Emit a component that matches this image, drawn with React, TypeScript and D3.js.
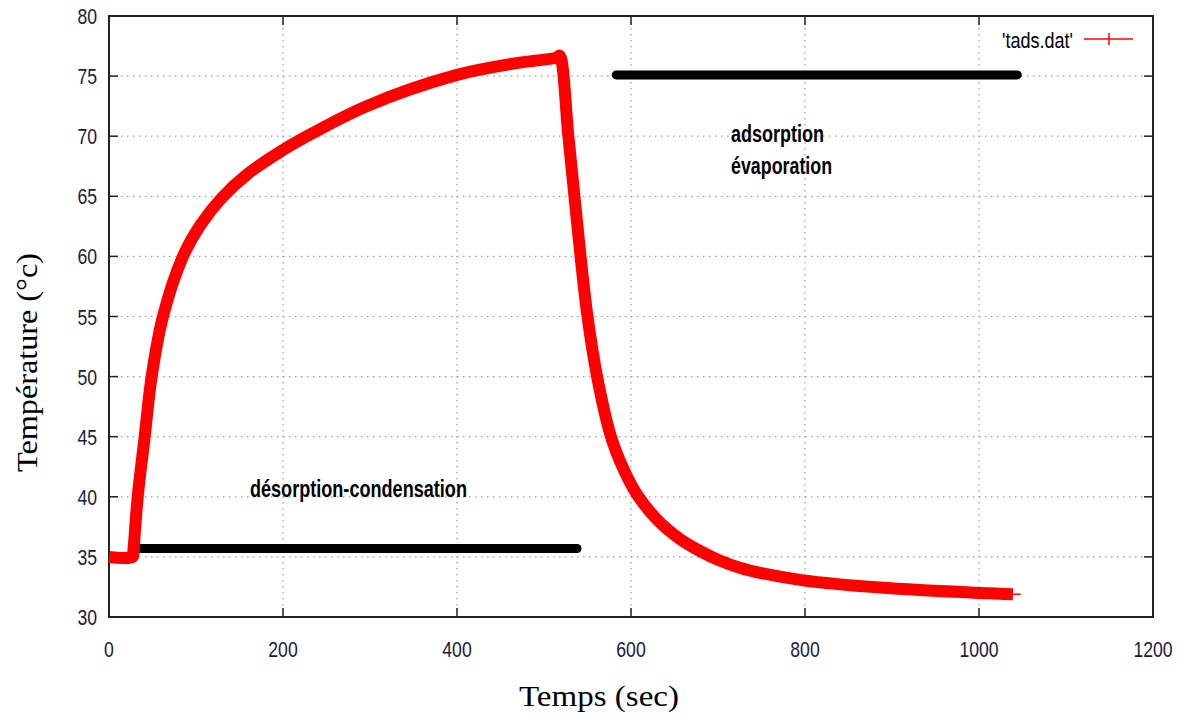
import React from "react";
import * as d3 from "d3";

const timeValues = [0, 27, 28, 33, 41, 49, 62, 85, 105, 130, 160, 200, 220, 296, 400, 470, 515, 518, 528, 535, 542, 550, 561, 577, 592, 606, 630, 656, 679, 702, 725, 750, 798, 886, 1001, 1039];
const tempValues = [35, 35, 35.5, 40, 45, 50, 55, 60, 62.6, 64.9, 66.9, 68.85, 69.7, 72.5, 75.1, 76.1, 76.55, 76.7, 70, 65, 60, 55, 50, 45, 42.2, 40.3, 38.1, 36.5, 35.5, 34.7, 34.1, 33.65, 33.05, 32.45, 32.0, 31.9];

const xTicks = [0, 200, 400, 600, 800, 1000, 1200];
const yTicks = [30, 35, 40, 45, 50, 55, 60, 65, 70, 75, 80];

const phaseSegments = [
  { t0: 32, t1: 538, temp: 35.7 },
  { t0: 583, t1: 1044, temp: 75.1 },
];
const annotationLabels = ["désorption-condensation", "adsorption", "évaporation"];
const annotationTimes = [162, 715, 715];
const annotationTemps = [40.0, 69.5, 66.85];
const annotationWidths = [217, 93, 101];

const W = 1185, H = 717;
const L = 109, R = 1153, T = 16, B = 617;

export default function App() {
  const x = d3.scaleLinear().domain([0, 1200]).range([L, R]);
  const y = d3.scaleLinear().domain([30, 80]).range([B, T]);
  const pts: [number, number][] = timeValues.map((t, i) => [t, tempValues[i]]);
  const line = d3.line<[number, number]>().x(d => x(d[0])).y(d => y(d[1])).curve(d3.curveCatmullRom.alpha(0.5));
  const sans = "'Liberation Sans', Arial, sans-serif";
  const serif = "'Liberation Serif', 'Times New Roman', serif";
  const tickColor = "#1b1b3c";
  return (
    <svg width={W} height={H} style={{ position: "absolute", left: 0, top: 0, background: "#fff" }}>
      {xTicks.filter(t => t > 0 && t < 1200).map(t => (
        <line key={"gx" + t} x1={x(t)} x2={x(t)} y1={T} y2={B} stroke="#9a9a9a" strokeWidth={1.2} strokeDasharray="1.5,4.5" />
      ))}
      {yTicks.filter(t => t > 30 && t < 80).map(t => (
        <line key={"gy" + t} x1={L} x2={R} y1={y(t)} y2={y(t)} stroke="#9a9a9a" strokeWidth={1.2} strokeDasharray="1.5,4.5" />
      ))}
      {xTicks.map(t => (
        <g key={"xt" + t}>
          <line x1={x(t)} x2={x(t)} y1={B} y2={B - 9} stroke="#222" strokeWidth={1.5} />
          <line x1={x(t)} x2={x(t)} y1={T} y2={T + 9} stroke="#222" strokeWidth={1.5} />
          <text transform={`translate(${x(t)},657) scale(0.8,1)`} textAnchor="middle" fontFamily={sans} fontSize={22} fill={tickColor}>{t}</text>
        </g>
      ))}
      {yTicks.map(t => (
        <g key={"yt" + t}>
          <line x1={L} x2={L + 9} y1={y(t)} y2={y(t)} stroke="#222" strokeWidth={1.5} />
          <line x1={R} x2={R - 9} y1={y(t)} y2={y(t)} stroke="#222" strokeWidth={1.5} />
          <text transform={`translate(97,${y(t) + 8}) scale(0.8,1)`} textAnchor="end" fontFamily={sans} fontSize={22} fill={tickColor}>{t}</text>
        </g>
      ))}
      <rect x={L} y={T} width={R - L} height={B - T} fill="none" stroke="#222" strokeWidth={2} />
      {phaseSegments.map((s, i) => (
        <line key={"ps" + i} x1={x(s.t0)} x2={x(s.t1)} y1={y(s.temp)} y2={y(s.temp)} stroke="#000" strokeWidth={9} strokeLinecap="round" />
      ))}
      <path d={line(pts) || ""} fill="none" stroke="#ff0000" strokeWidth={12} strokeLinejoin="miter" />
      <line x1={x(1039)} x2={x(1041) + 6} y1={y(31.9)} y2={y(31.9)} stroke="#ff0000" strokeWidth={1.5} />
      {annotationLabels.map((a, i) => (
        <text key={"an" + i} x={x(annotationTimes[i])} y={y(annotationTemps[i])} fontFamily={sans} fontWeight="bold" fontSize={23}
          textLength={annotationWidths[i]} lengthAdjust="spacingAndGlyphs" fill="#000">{a}</text>
      ))}
      <text x={1002} y={48} fontFamily={sans} fontSize={22} textLength={71} lengthAdjust="spacingAndGlyphs" fill="#000">'tads.dat'</text>
      <line x1={1084} x2={1133} y1={39} y2={39} stroke="#ff0000" strokeWidth={1.5} />
      <line x1={1109} x2={1109} y1={33} y2={45} stroke="#ff0000" strokeWidth={1.5} />
      <text x={519} y={706} fontFamily={serif} fontSize={30} textLength={160} lengthAdjust="spacingAndGlyphs" fill="#000">Temps (sec)</text>
      <text transform="translate(37,472) rotate(-90)" fontFamily={serif} fontSize={30} textLength={219} lengthAdjust="spacingAndGlyphs" fill="#000">Température (°c)</text>
    </svg>
  );
}
